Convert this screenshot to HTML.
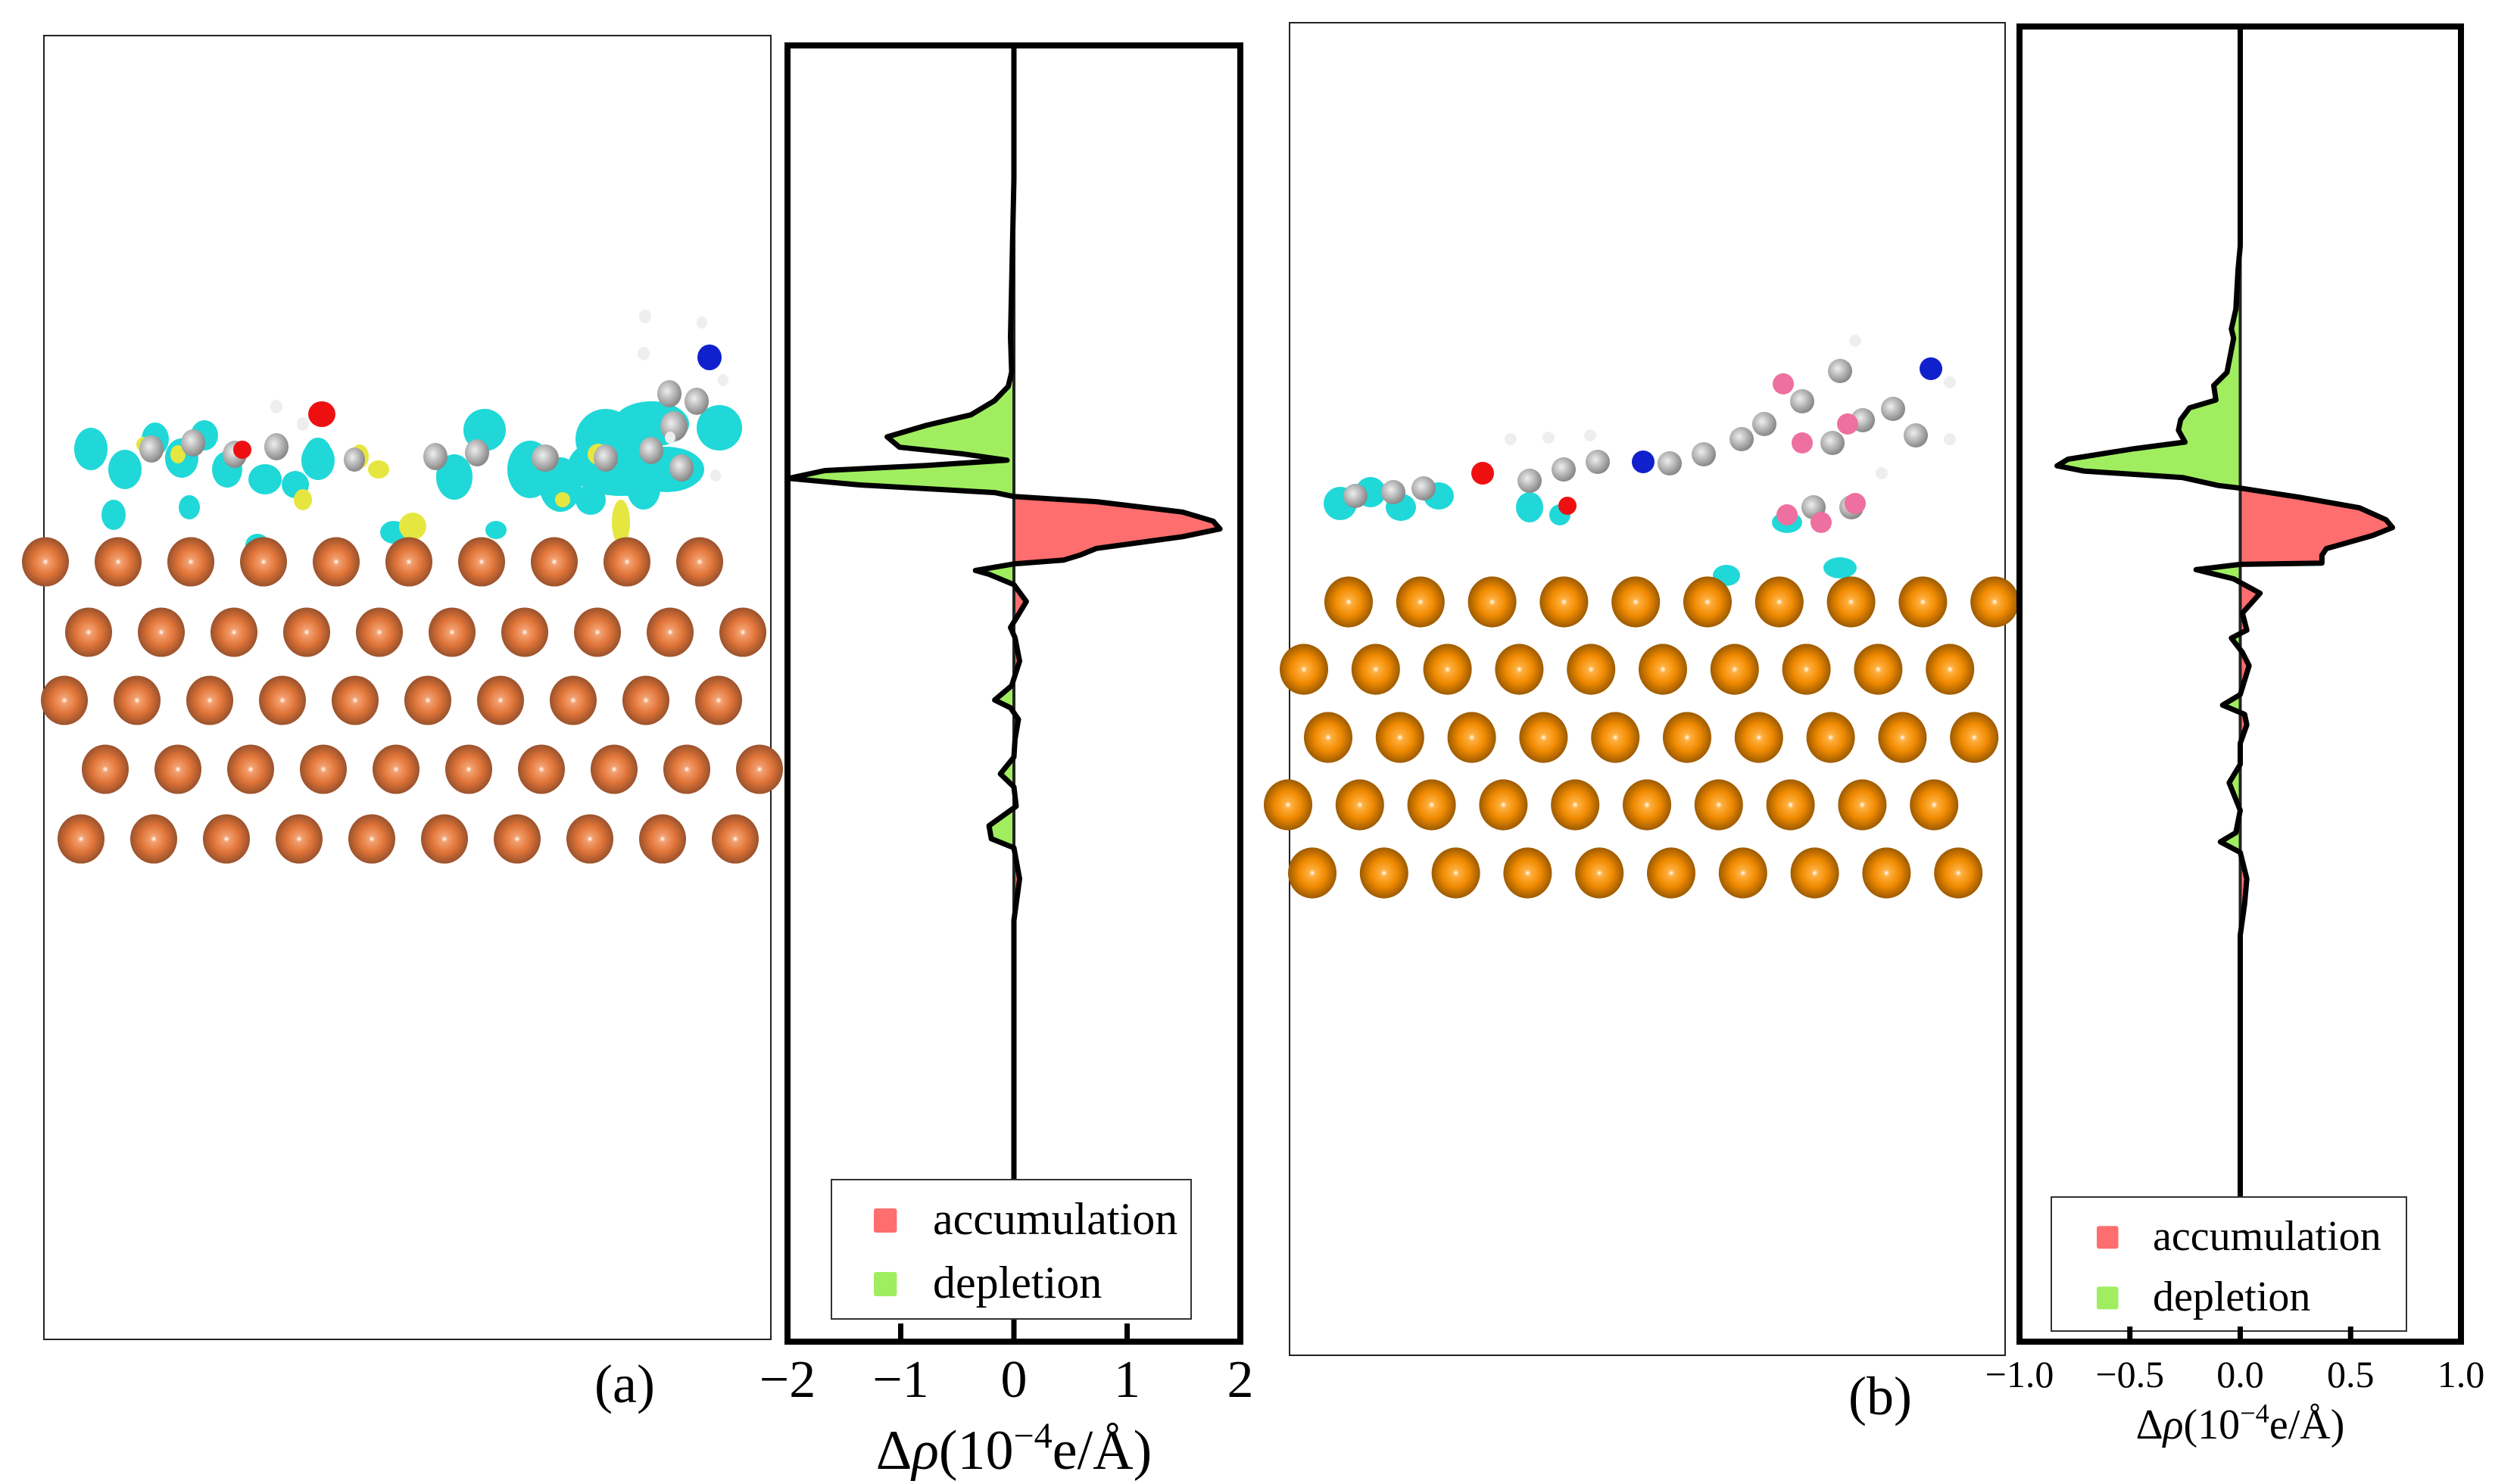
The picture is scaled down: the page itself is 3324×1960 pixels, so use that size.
<!DOCTYPE html>
<html><head><meta charset="utf-8"><style>
html,body{margin:0;padding:0;background:#fff;}
svg{display:block;}
</style></head><body>
<svg id="fig" width="3324" height="1960" viewBox="0 0 3324 1960" xmlns="http://www.w3.org/2000/svg" font-family="'Liberation Serif', serif">
<defs>
<radialGradient id="cuA" cx="0.5" cy="0.5" r="0.55"><stop offset="0" stop-color="#fff"/><stop offset="0.12" stop-color="#f3a070"/><stop offset="0.5" stop-color="#e07438"/><stop offset="1" stop-color="#8a4a2a"/></radialGradient>
<radialGradient id="cuB" cx="0.5" cy="0.5" r="0.55"><stop offset="0" stop-color="#fff"/><stop offset="0.12" stop-color="#ffb040"/><stop offset="0.5" stop-color="#f08a00"/><stop offset="1" stop-color="#8a5000"/></radialGradient>
<radialGradient id="cg" cx="0.4" cy="0.4" r="0.6"><stop offset="0" stop-color="#eee"/><stop offset="1" stop-color="#888"/></radialGradient>
</defs>
<g id="panelA"></g>
<g id="panelB"></g>
</svg>
<script>
// ---- chart data (a) ----
const depthA = [0,10.3,22.5,25.2,26.3,27.4,28.5,29.3,30.2,31.0,31.5,32.0,32.4,32.8,33.4,33.9,34.5,34.8,35.2,36.0,36.7,37.3,37.9,38.8,39.3,39.7,40.0,40.5,40.8,41.6,42.9,44.2,44.9,45.7,47.5,49.4,50.5,51.1,52.0,53.5,54.9,56.2,57.2,58.7,60.2,61.2,61.9,64.3,67.5,100];
const rhoA = [0,0,-0.03,-0.02,-0.05,-0.17,-0.38,-0.77,-1.12,-1.01,-0.46,-0.06,-0.77,-1.67,-1.99,-1.37,-0.17,0,0.73,1.49,1.76,1.82,1.49,0.73,0.59,0.44,0,-0.34,-0.22,0,0.11,0.02,-0.03,0.01,0.05,-0.02,-0.17,-0.03,0.04,0.01,0,-0.12,0,0.02,-0.22,-0.2,0,0.05,0,0];
const ticksA = [-2,-1,0,1,2];
const tickLabelsA = ["\u22122","\u22121","0","1","2"];
// ---- chart data (b) ----
const depthB = [0,16.7,18.5,21.5,23.0,23.7,26.3,27.3,28.4,29.0,29.9,30.7,31.6,32.1,32.9,33.4,33.8,34.3,34.9,35.1,35.8,36.6,37.5,38.1,38.7,39.7,40.2,40.8,40.9,41.3,42.0,43.1,44.6,45.9,46.5,47.6,48.6,50.8,51.6,52.3,53.1,54.5,56.1,57.5,59.6,61.3,62.0,62.8,64.8,66.7,69.1,100];
const rhoB = [0,0,-0.01,-0.02,-0.04,-0.03,-0.06,-0.12,-0.11,-0.23,-0.27,-0.28,-0.25,-0.48,-0.78,-0.83,-0.71,-0.26,-0.1,0,0.27,0.54,0.66,0.69,0.6,0.39,0.37,0.37,0,-0.2,-0.03,0.09,0.01,0.03,-0.04,0.01,0.04,0,-0.08,0.02,0.03,0,0,-0.05,0,-0.02,-0.09,0,0.03,0.02,0,0];
const ticksB = [-1,-0.5,0,0.5,1];
const tickLabelsB = ["\u22121.0","\u22120.5","0.0","0.5","1.0"];

const NS="http://www.w3.org/2000/svg";
function mk(parent,tag,attrs){const e=document.createElementNS(NS,tag);for(const k in attrs)e.setAttribute(k,attrs[k]);parent.appendChild(e);return e;}

function drawChart(g,cfg){
  const {x0,x1,y0,y1,dmin,dmax,depth,rho,ticks,labels,tickFont,tickY,titleY,titleFont,leg,tickLen}=cfg;
  const sx=v=>x0+(v-dmin)/(dmax-dmin)*(x1-x0);
  const sy=d=>y0+d/100*(y1-y0);
  const zx=sx(0);
  let pts=depth.map((d,i)=>sx(rho[i]).toFixed(1)+","+sy(d).toFixed(1));
  const id=cfg.id;
  const cp=mk(g,"clipPath",{id:id+"pos"}); mk(cp,"rect",{x:zx,y:y0,width:x1-zx,height:y1-y0});
  const cn=mk(g,"clipPath",{id:id+"neg"}); mk(cn,"rect",{x:x0,y:y0,width:zx-x0,height:y1-y0});
  const areaPts=zx+","+sy(depth[0])+" "+pts.join(" ")+" "+zx+","+sy(depth[depth.length-1]);
  const ap=mk(g,"polygon",{points:areaPts,fill:"#ff6e6e","clip-path":"url(#"+id+"pos)"});
  
  
  const an=mk(g,"polygon",{points:areaPts,fill:"#a0ee60","clip-path":"url(#"+id+"neg)"});
  
  
  const zl=mk(g,"line",{x1:zx,x2:zx,y1:y0,y2:y1,stroke:"#222","stroke-width":4});
  
  
  const ln=mk(g,"polyline",{points:pts.join(" "),fill:"none",stroke:"#000","stroke-width":7,"stroke-linejoin":"round"});
  
  
  const lg=mk(g,"g",{});
  
  
  mk(lg,"rect",{x:leg.x,y:leg.y,width:leg.w,height:leg.h,fill:"#fff",stroke:"#333","stroke-width":2});
  const items=[["accumulation","#ff6e6e"],["depletion","#a0ee60"]];
  items.forEach((it,i)=>{
    const ry=leg.y+leg.rowY[i];
    const sw=mk(lg,"rect",{x:leg.sx,y:ry-leg.sq/2-leg.fs*0.3,width:leg.sq*0.95,height:leg.sq,fill:it[1],rx:3});
    
    
    const t=mk(lg,"text",{x:leg.tx,y:ry,"font-size":leg.fs,fill:"#000"});
    t.textContent=it[0];
    
    
  });
  const fr=mk(g,"rect",{x:x0,y:y0,width:x1-x0,height:y1-y0,fill:"none",stroke:"#000","stroke-width":8});
  
  
  ticks.forEach((v,i)=>{
    const tx=sx(v);
    const tk=mk(g,"line",{x1:tx,x2:tx,y1:y1,y2:y1-tickLen,stroke:"#000","stroke-width":7});
    
    
    const t=mk(g,"text",{x:tx,y:tickY,"font-size":tickFont,"text-anchor":"middle",fill:"#000"});
    t.textContent=labels[i];
    
    
  });
  const ti=mk(g,"text",{x:(x0+x1)/2,y:titleY,"font-size":titleFont,"text-anchor":"middle",fill:"#000"});
  ti.innerHTML='\u0394<tspan font-style="italic">\u03c1</tspan>(10<tspan dy="-'+titleFont*0.38+'" font-size="'+titleFont*0.65+'">\u22124</tspan><tspan dy="'+titleFont*0.38+'">e/\u00c5)</tspan>';
  
  
}

function drawSlab(g,rows,grad,r){
  rows.forEach(row=>{
    for(let i=0;i<row.n;i++){
      const c=mk(g,"ellipse",{cx:row.x+i*row.dx,cy:row.y,rx:r,ry:r*1.05,fill:"url(#"+grad+")"});
      
      
    }
  });
}
function blobs(g,list,fill){list.forEach(b=>{const e=mk(g,"ellipse",{cx:b[0],cy:b[1],rx:b[2],ry:b[3],fill:fill});});}

// ---- panel (a) ----
const gA=document.getElementById("panelA");
const boxA=mk(gA,"rect",{x:58,y:47,width:960,height:1722,fill:"none",stroke:"#222","stroke-width":2});


const molA=mk(gA,"g",{});


blobs(molA,[[120,593,22,28],[165,620,22,26],[205,580,18,22],[240,605,22,26],[270,575,18,20],[300,620,20,24],[350,633,22,20],[390,640,18,18],[420,608,22,26],[600,630,24,30],[640,568,28,28],[700,620,30,38],[740,640,28,36],[800,580,40,40],[860,560,50,30],[950,565,30,30],[820,615,70,40],[880,620,50,30],[780,660,20,20],[850,645,22,28],[340,720,16,15],[520,703,18,15],[655,700,14,12],[150,680,16,20],[250,670,14,16],[420,600,18,22]],"#20d8d8");
blobs(molA,[[190,587,10,10],[235,600,10,12],[400,660,12,14],[475,603,12,16],[500,620,14,12],[790,600,14,14],[545,695,18,18],[743,660,10,10],[820,690,12,30]],"#e6e640");
blobs(molA,[[200,593,16,18],[255,585,16,18],[310,600,16,18],[365,590,16,18],[468,607,14,16],[575,603,16,18],[630,598,16,18],[720,605,18,18],[800,605,16,18],[860,595,16,18],[890,563,18,20],[920,530,16,18],[884,520,16,18],[900,618,16,18]],"url(#cg)");
blobs(molA,[[425,547,18,17]],"#ee1010");
blobs(molA,[[320,594,12,12]],"#ee1010");
blobs(molA,[[937,472,16,17]],"#1020cc");
blobs(molA,[[365,537,8,9],[400,560,8,9],[852,418,8,9],[850,467,8,9],[927,426,7,8],[955,502,7,8],[885,578,7,8],[945,628,7,8]],"#eee");
drawSlab(gA,[{x:60,y:742,n:10,dx:96},{x:117,y:835,n:10,dx:96},{x:85,y:925,n:10,dx:96},{x:139,y:1016,n:10,dx:96},{x:107,y:1108,n:10,dx:96}],"cuA",31);
const la=mk(gA,"text",{x:825,y:1852,"font-size":72,"text-anchor":"middle",fill:"#000"});la.textContent="(a)";


drawChart(gA,{id:"ca",x0:1040,x1:1638,y0:60,y1:1772,dmin:-2,dmax:2,depth:depthA,rho:rhoA,ticks:ticksA,labels:tickLabelsA,tickFont:70,tickY:1845,titleY:1940,titleFont:74,tickLen:24,
 leg:{x:1098,y:1558,w:475,h:184,sx:1154,sq:32,tx:1232,rowY:[72,156],fs:60}});

// ---- panel (b) ----
const gB=document.getElementById("panelB");
const boxB=mk(gB,"rect",{x:1703,y:30,width:945,height:1760,fill:"none",stroke:"#222","stroke-width":2});


const molB=mk(gB,"g",{});


blobs(molB,[[1770,665,22,22],[1810,650,20,20],[1850,670,20,18],[1900,655,20,18],[2020,670,18,20],[2060,680,14,14],[2360,690,20,14],[2430,750,22,14],[2280,760,18,14]],"#20d8d8");
blobs(molB,[[1790,655,16,16],[1840,650,16,16],[1880,645,16,16],[2020,635,16,16],[2065,620,16,16],[2110,610,16,16],[2205,612,16,16],[2250,600,16,16],[2300,580,16,16],[2330,560,16,16],[2380,530,16,16],[2430,490,16,16],[2460,555,16,16],[2500,540,16,16],[2530,575,16,16],[2420,585,16,16],[2395,670,16,16],[2445,670,16,16]],"url(#cg)");
blobs(molB,[[1958,625,15,15],[2070,668,12,12]],"#ee1010");
blobs(molB,[[2170,610,15,15],[2550,487,15,15]],"#1020cc");
blobs(molB,[[2355,507,14,14],[2380,585,14,14],[2440,560,14,14],[2360,680,14,14],[2405,690,14,14],[2450,665,14,14]],"#ee70a0");
blobs(molB,[[1995,580,8,8],[2045,578,8,8],[2100,575,8,8],[2450,450,8,8],[2575,505,8,8],[2575,580,8,8],[2485,625,8,8]],"#eee");
drawSlab(gB,[{x:1781,y:795,n:10,dx:94.8},{x:1722,y:884,n:10,dx:94.8},{x:1754,y:974,n:10,dx:94.8},{x:1701,y:1063,n:10,dx:94.8},{x:1733,y:1153,n:10,dx:94.8}],"cuB",32);
const lb=mk(gB,"text",{x:2483,y:1868,"font-size":72,"text-anchor":"middle",fill:"#000"});lb.textContent="(b)";


drawChart(gB,{id:"cb",x0:2667,x1:3250,y0:35,y1:1772,dmin:-1,dmax:1,depth:depthB,rho:rhoB,ticks:ticksB,labels:tickLabelsB,tickFont:50,tickY:1832,titleY:1900,titleFont:56,tickLen:20,
 leg:{x:2709,y:1581,w:469,h:177,sx:2769,sq:30,tx:2843,rowY:[70,150],fs:56}});
</script>
</body></html>
